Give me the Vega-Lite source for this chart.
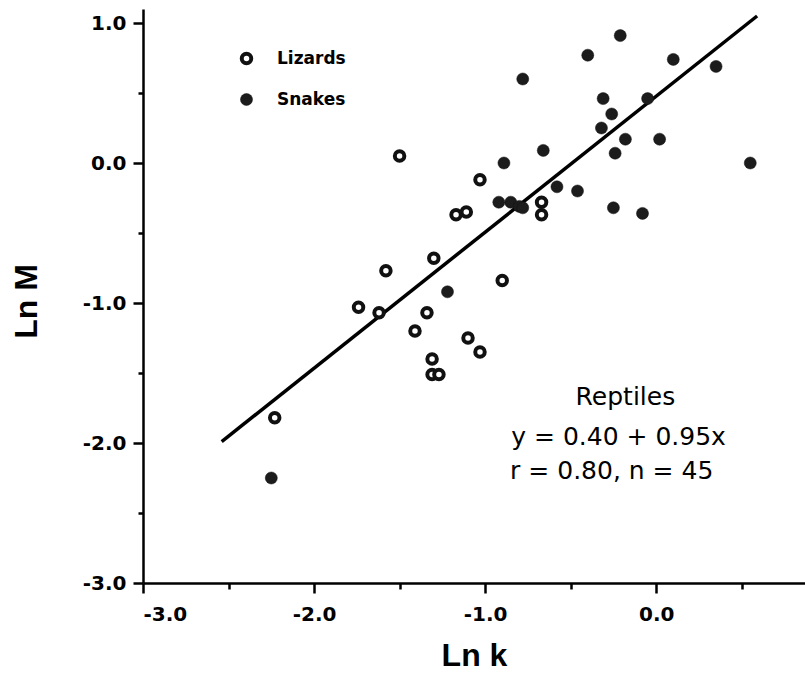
{
  "$schema": "https://vega.github.io/schema/vega-lite/v6.json",
  "autosize": {"type": "none"},
  "padding": {"left": 143, "top": 9, "right": 0, "bottom": 94},
  "width": 662,
  "height": 574,
  "background": "white",
  "config": {
    "view": {"stroke": null},
    "font": "DejaVu Sans"
  },
  "layer": [
    {
      "data": {"values": [{"x": -2.54, "y": -1.99}, {"x": 0.59, "y": 1.05}]},
      "mark": {"type": "line", "color": "black", "strokeWidth": 3.5},
      "encoding": {
        "x": {"field": "x", "type": "quantitative", "scale": {"domain": [-3, 0.87], "nice": false, "zero": false},
          "axis": {"values": [-3, -2.5, -2, -1.5, -1, -0.5, 0, 0.5], "grid": false,
            "domainColor": "black", "domainWidth": 2.5, "tickColor": "black", "tickWidth": 2.5,
            "labelFont": "DejaVu Sans", "labelFontSize": 20, "labelFontWeight": "bold", "labelColor": "black",
            "labelExpr": "datum.value % 1 === 0 ? replace(format(datum.value, '.1f'), '\u2212', '-') : ''",
            "tickSize": {"condition": {"test": "datum.value % 1 === 0", "value": 10}, "value": 6},
            "labelPadding": 11, "title": "Ln k", "titleFont": "Liberation Sans", "titleFontWeight": "bold", "titleColor": "black", "titleFontSize": 32,
            "titleX": 331, "titleY": 72, "titleBaseline": "middle", "titleAlign": "center"}},
        "y": {"field": "y", "type": "quantitative", "scale": {"domain": [-3, 1.1], "nice": false, "zero": false},
          "axis": {"values": [-3, -2.5, -2, -1.5, -1, -0.5, 0, 0.5, 1], "grid": false,
            "domainColor": "black", "domainWidth": 2.5, "tickColor": "black", "tickWidth": 2.5,
            "labelFont": "DejaVu Sans", "labelFontSize": 20, "labelFontWeight": "bold", "labelColor": "black",
            "labelExpr": "datum.value % 1 === 0 ? replace(format(datum.value, '.1f'), '\u2212', '-') : ''",
            "tickSize": {"condition": {"test": "datum.value % 1 === 0", "value": 10}, "value": 5},
            "labelPadding": 7, "title": "Ln M", "titleFont": "Liberation Sans", "titleFontWeight": "bold", "titleColor": "black", "titleFontSize": 32,
            "titleX": -117, "titleY": 292, "titleAngle": -90, "titleBaseline": "middle", "titleAlign": "center"}}
      }
    },
    {
      "data": {"values": [
        {"x": -0.21, "y": 0.91, "group": "Snakes"},
        {"x": -0.40, "y": 0.77, "group": "Snakes"},
        {"x": 0.10, "y": 0.74, "group": "Snakes"},
        {"x": 0.35, "y": 0.69, "group": "Snakes"},
        {"x": -0.78, "y": 0.60, "group": "Snakes"},
        {"x": -0.31, "y": 0.46, "group": "Snakes"},
        {"x": -0.05, "y": 0.46, "group": "Snakes"},
        {"x": -0.26, "y": 0.35, "group": "Snakes"},
        {"x": -0.32, "y": 0.25, "group": "Snakes"},
        {"x": -0.18, "y": 0.17, "group": "Snakes"},
        {"x": 0.02, "y": 0.17, "group": "Snakes"},
        {"x": -0.24, "y": 0.07, "group": "Snakes"},
        {"x": -0.66, "y": 0.09, "group": "Snakes"},
        {"x": -0.89, "y": 0.00, "group": "Snakes"},
        {"x": 0.55, "y": 0.00, "group": "Snakes"},
        {"x": -0.58, "y": -0.17, "group": "Snakes"},
        {"x": -0.46, "y": -0.20, "group": "Snakes"},
        {"x": -0.92, "y": -0.28, "group": "Snakes"},
        {"x": -0.85, "y": -0.28, "group": "Snakes"},
        {"x": -0.80, "y": -0.31, "group": "Snakes"},
        {"x": -0.78, "y": -0.32, "group": "Snakes"},
        {"x": -0.25, "y": -0.32, "group": "Snakes"},
        {"x": -0.08, "y": -0.36, "group": "Snakes"},
        {"x": -1.22, "y": -0.92, "group": "Snakes"},
        {"x": -2.25, "y": -2.25, "group": "Snakes"},
        {"x": -1.50, "y": 0.05, "group": "Lizards"},
        {"x": -1.03, "y": -0.12, "group": "Lizards"},
        {"x": -0.67, "y": -0.28, "group": "Lizards"},
        {"x": -0.67, "y": -0.37, "group": "Lizards"},
        {"x": -1.17, "y": -0.37, "group": "Lizards"},
        {"x": -1.11, "y": -0.35, "group": "Lizards"},
        {"x": -1.30, "y": -0.68, "group": "Lizards"},
        {"x": -1.58, "y": -0.77, "group": "Lizards"},
        {"x": -1.74, "y": -1.03, "group": "Lizards"},
        {"x": -1.62, "y": -1.07, "group": "Lizards"},
        {"x": -1.34, "y": -1.07, "group": "Lizards"},
        {"x": -1.41, "y": -1.20, "group": "Lizards"},
        {"x": -1.10, "y": -1.25, "group": "Lizards"},
        {"x": -1.03, "y": -1.35, "group": "Lizards"},
        {"x": -1.31, "y": -1.40, "group": "Lizards"},
        {"x": -1.31, "y": -1.51, "group": "Lizards"},
        {"x": -1.27, "y": -1.51, "group": "Lizards"},
        {"x": -2.23, "y": -1.82, "group": "Lizards"},
        {"x": -0.90, "y": -0.84, "group": "Lizards"}
      ]},
      "mark": {"type": "point", "filled": false, "stroke": "#111", "opacity": 1},
      "encoding": {
        "x": {"field": "x", "type": "quantitative"},
        "y": {"field": "y", "type": "quantitative"},
        "fill": {"field": "group", "type": "nominal",
          "scale": {"domain": ["Lizards", "Snakes"], "range": ["white", "#1c1c1c"]},
          "legend": {"orient": "none", "legendX": 95, "legendY": 41, "title": null, "padding": 0,
            "labelFont": "DejaVu Sans", "labelFontSize": 17, "labelFontWeight": "bold", "labelColor": "black",
            "labelOffset": 22, "rowPadding": 18, "symbolStrokeColor": "#111"}},
        "size": {"field": "group", "type": "nominal", "scale": {"domain": ["Lizards", "Snakes"], "range": [90, 145]}},
        "strokeWidth": {"field": "group", "type": "nominal", "scale": {"domain": ["Lizards", "Snakes"], "range": [4, 0.5]}}
      }
    },
    {
      "data": {"values": [
        {"label": "Reptiles", "x": -0.18, "y": -1.67},
        {"label": "y = 0.40 + 0.95x", "x": -0.22, "y": -1.96},
        {"label": "r = 0.80, n = 45", "x": -0.26, "y": -2.2}
      ]},
      "mark": {"type": "text", "font": "DejaVu Sans", "fontSize": 25, "color": "black", "align": "center", "baseline": "middle"},
      "encoding": {
        "x": {"field": "x", "type": "quantitative"},
        "y": {"field": "y", "type": "quantitative"},
        "text": {"field": "label"}
      }
    }
  ]
}
